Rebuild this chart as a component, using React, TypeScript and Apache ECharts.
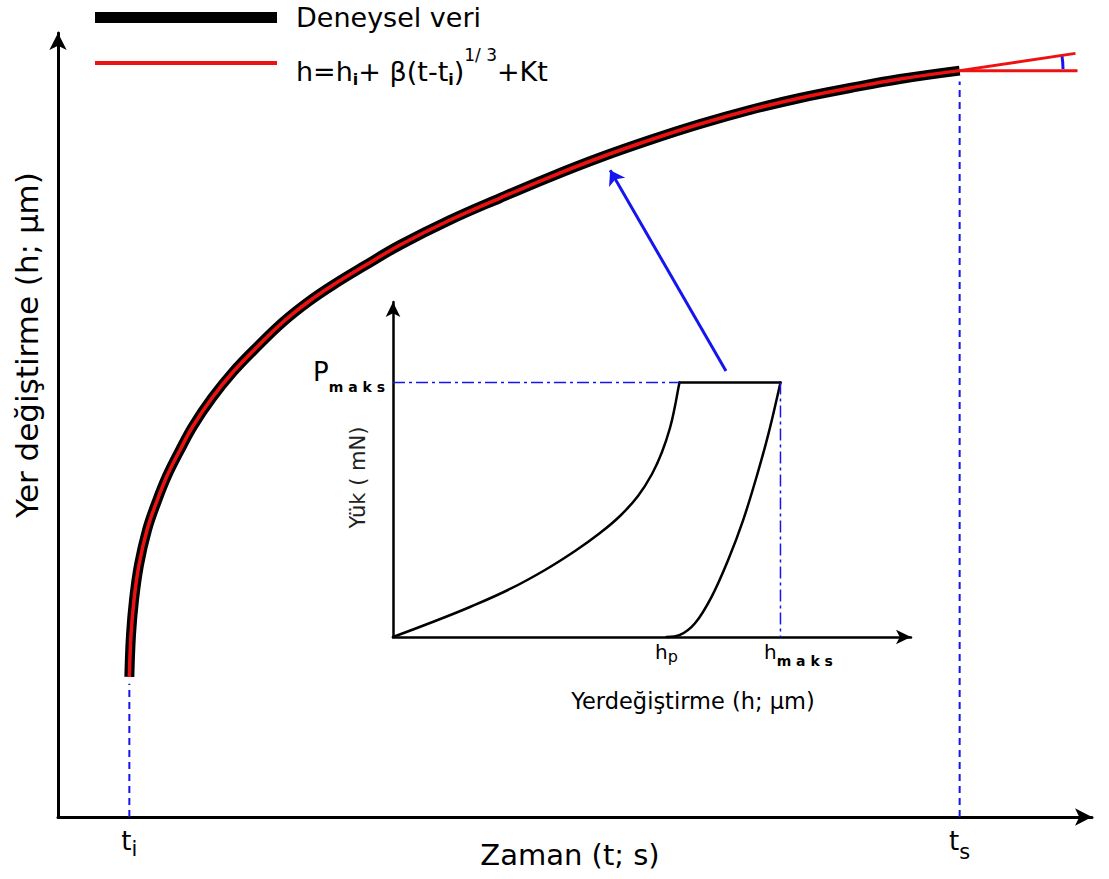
import React, { useEffect, useRef } from 'react';
import * as echarts from 'echarts';

const FONT = 'DejaVu Sans';
const BLUE = '#1515ee';
const RED = '#ee1111';

// Creep curve h(t); both main axes run over 0–100 arbitrary units
const creepT = [6.9, 7.06, 7.35, 7.83, 8.61, 9.57, 10.54, 11.8, 13.06, 14.89, 16.92, 19.34, 21.76, 24.18, 26.6, 29.69, 33.08, 37.91, 42.75, 47.58, 52.42, 57.25, 62.09, 66.92, 71.76, 76.6, 81.43, 87.2];
const creepH = [17.86, 23.21, 27.68, 32.14, 36.61, 40.31, 43.49, 46.81, 49.87, 53.44, 56.76, 60.08, 63.14, 65.69, 67.86, 70.34, 72.96, 76.15, 78.95, 81.63, 84.12, 86.35, 88.39, 90.18, 91.71, 92.98, 94.13, 95.2];

// Start and end of the hold period
const tI = 6.9;
const tS = 87.2;
const hS = 95.2;

// Tangent at t_s and the horizontal reference through the same point
const tangentT = [87.2, 98.4];
const tangentH = [95.2, 97.4];
const levelT = [87.2, 98.6];
const levelH = [95.2, 95.2];
const arcRadiusT = 97.2;

// Top of the dashed guides at t_i and t_s
const guideTopI = 17.0;
const guideTopS = 93.8;

// Pointer from the hold segment of the inset to the curve (main axis units)
const pointerT = [64.6, 53.4];
const pointerH = [56.9, 82.5];

// Inset: load P against displacement h (0–100 units)
const loadH = [0, 7.14, 14.86, 22.59, 29.34, 35.14, 39.96, 43.82, 47.3, 50.0, 51.93, 53.47, 54.44, 55.02, 55.31];
const loadP = [0, 4.18, 8.96, 14.33, 20.0, 25.67, 31.04, 36.12, 42.09, 48.66, 55.22, 62.39, 68.96, 73.73, 76];
const holdH = [55.31, 74.8];
const holdP = [76, 76];
const unloadH = [74.8, 72.5, 70.2, 67.6, 64.7, 61.5, 58.3, 55.4, 52.8];
const unloadP = [76, 60.8, 47.9, 34.9, 23.0, 12.0, 4.1, 0.6, 0];
const pMaks = 76;
const hP = 52.8;
const hMaks = 74.8;

const EXP_NAME = 'Deneysel veri';
const FIT_NAME = 'h=hi+ β(t-ti)^(1/3)+Kt';

const zip = (a: number[], b: number[]) => a.map((v, i) => [v, b[i]]);
const near = (a: number, b: number) => Math.abs(a - b) < 1e-6;

const lineBase = {
  type: 'line',
  symbol: 'none',
  showSymbol: false,
  silent: true,
  emphasis: { disabled: true },
  clip: false,
};

function axisLine(arrow: number[], width: number) {
  return {
    show: true,
    onZero: false,
    symbol: ['none', 'arrow'],
    symbolSize: arrow,
    lineStyle: { color: '#000', width },
  };
}

const tk = (size: number, extra: Record<string, unknown> = {}) => ({
  fontSize: size,
  fontFamily: FONT,
  color: '#000',
  verticalAlign: 'top',
  ...extra,
});

function buildOption() {
  return {
    animation: false,
    backgroundColor: '#fff',
    grid: [
      { left: 58, top: 33, right: 17, bottom: 62, containLabel: false, outerBoundsMode: 'none' },
      { left: 393, top: 302, right: 198, bottom: 242, containLabel: false, outerBoundsMode: 'none' },
    ],
    legend: [
      {
        data: [EXP_NAME],
        left: 95,
        top: 4,
        padding: 0,
        icon: 'rect',
        itemWidth: 182,
        itemHeight: 11,
        selectedMode: false,
        itemStyle: { borderWidth: 0 },
        textStyle: { fontSize: 27, fontFamily: FONT, color: '#000', padding: [0, 0, 0, 14] },
      },
      {
        data: [FIT_NAME],
        left: 95,
        top: 46.5,
        padding: 0,
        icon: 'rect',
        itemWidth: 182,
        itemHeight: 4,
        selectedMode: false,
        itemStyle: { borderWidth: 0 },
        formatter: () => '{n0|h=h}{sb|i}{n|+ β(t-t}{sb|i}{n|)}{sp|1/ 3}{n|+Kt}',
        textStyle: {
          fontSize: 27,
          fontFamily: FONT,
          color: '#000',
          rich: {
            n0: tk(27, { padding: [19.6, 0, 0, 14] }),
            n: tk(27, { padding: [19.6, 0, 0, 0] }),
            sb: tk(16, { fontWeight: 'bold', padding: [32.9, 0, 0, 0] }),
            sp: tk(17, { padding: [8, 0, 0, 0] }),
          },
        },
      },
    ],
    xAxis: [
      {
        gridIndex: 0,
        type: 'value',
        min: 0,
        max: 100,
        axisLine: axisLine([13, 17], 3),
        axisTick: { show: false },
        splitLine: { show: false },
        axisLabel: {
          show: true,
          customValues: [tI, tS],
          margin: 11,
          formatter: (v: number) => (near(v, tI) ? '{t|t}{si|i}' : near(v, tS) ? '{t|t}{ss|s}' : ''),
          rich: {
            t: tk(26),
            si: tk(21, { padding: [10, 0, 0, 0] }),
            ss: tk(21, { padding: [13, 0, 0, 0] }),
          },
        },
        name: 'Zaman (t; s)',
        nameLocation: 'middle',
        nameGap: 23,
        nameMoveOverlap: false,
        nameTextStyle: { fontSize: 29, fontFamily: FONT, color: '#000', padding: [0, 10, 0, 0] },
      },
      {
        gridIndex: 1,
        type: 'value',
        min: 0,
        max: 100,
        axisLine: axisLine([11, 15], 2.5),
        axisTick: { show: false },
        splitLine: { show: false },
        axisLabel: {
          show: true,
          customValues: [hP, hMaks],
          margin: 5,
          formatter: (v: number) => (near(v, hP) ? '{h|h}{p|p}' : near(v, hMaks) ? '{hm|h}{m|m a k s}' : ''),
          rich: {
            h: tk(20),
            hm: tk(20, { padding: [0, 0, 0, 36] }),
            p: tk(16, { padding: [6.5, 0, 0, 0] }),
            m: tk(14, { fontWeight: 'bold', padding: [12, 0, 0, 0] }),
          },
        },
        name: 'Yerdeğiştirme (h; μm)',
        nameLocation: 'middle',
        nameGap: 52,
        nameMoveOverlap: false,
        nameTextStyle: { fontSize: 22.5, fontFamily: FONT, color: '#000', padding: [0, 0, 0, 82] },
      },
    ],
    yAxis: [
      {
        gridIndex: 0,
        type: 'value',
        min: 0,
        max: 100,
        axisLine: axisLine([13, 17], 3),
        axisTick: { show: false },
        splitLine: { show: false },
        axisLabel: { show: false },
        name: 'Yer değiştirme (h; μm)',
        nameLocation: 'middle',
        nameGap: 16,
        nameMoveOverlap: false,
        nameTextStyle: { fontSize: 31, fontFamily: FONT, color: '#000', padding: [0, 0, 0, 160] },
      },
      {
        gridIndex: 1,
        type: 'value',
        min: 0,
        max: 100,
        axisLine: axisLine([11, 15], 2.5),
        axisTick: { show: false },
        splitLine: { show: false },
        axisLabel: {
          show: true,
          customValues: [pMaks],
          margin: 8,
          formatter: (v: number) => (near(v, pMaks) ? '{p|P}{m|m a k s}' : ''),
          rich: {
            p: tk(26, { padding: [0, 0, 21, 0] }),
            m: tk(14, { fontWeight: 'bold', padding: [21, 0, 0, 0] }),
          },
        },
        name: 'Yük ( mN)',
        nameLocation: 'middle',
        nameGap: 25,
        nameMoveOverlap: false,
        nameTextStyle: { fontSize: 21, fontFamily: FONT, color: '#222', padding: [0, 16, 0, 0] },
      },
    ],
    series: [
      // measured creep curve (thick black) with the fitted law on top (red)
      {
        ...lineBase,
        name: EXP_NAME,
        xAxisIndex: 0,
        yAxisIndex: 0,
        data: zip(creepT, creepH),
        smooth: 0.4,
        color: '#000',
        lineStyle: { color: '#000', width: 10, cap: 'butt' },
      },
      {
        ...lineBase,
        name: FIT_NAME,
        xAxisIndex: 0,
        yAxisIndex: 0,
        data: zip(creepT, creepH),
        smooth: 0.4,
        color: RED,
        lineStyle: { color: RED, width: 3.5 },
      },
      {
        ...lineBase,
        name: 'tangent',
        xAxisIndex: 0,
        yAxisIndex: 0,
        data: zip(tangentT, tangentH),
        lineStyle: { color: RED, width: 3 },
      },
      {
        ...lineBase,
        name: 'level',
        xAxisIndex: 0,
        yAxisIndex: 0,
        data: zip(levelT, levelH),
        lineStyle: { color: RED, width: 3 },
      },
      {
        ...lineBase,
        name: 'guide-ti',
        xAxisIndex: 0,
        yAxisIndex: 0,
        data: [[tI, 0], [tI, guideTopI]],
        lineStyle: { color: BLUE, width: 2, type: [7, 5] },
      },
      {
        ...lineBase,
        name: 'guide-ts',
        xAxisIndex: 0,
        yAxisIndex: 0,
        data: [[tS, 0], [tS, guideTopS]],
        lineStyle: { color: BLUE, width: 2, type: [7, 5] },
      },
      {
        type: 'lines',
        name: 'pointer',
        coordinateSystem: 'cartesian2d',
        xAxisIndex: 0,
        yAxisIndex: 0,
        silent: true,
        symbol: ['none', 'arrow'],
        symbolSize: 14,
        lineStyle: { color: BLUE, width: 3, opacity: 1, curveness: 0 },
        data: [{ coords: zip(pointerT, pointerH) }],
      },
      {
        type: 'custom',
        name: 'angle',
        xAxisIndex: 0,
        yAxisIndex: 0,
        silent: true,
        clip: false,
        data: [[tS, hS, arcRadiusT, tangentT[1], tangentH[1]]],
        encode: { x: [0, 2, 3], y: [1, 4] },
        renderItem: (_params: unknown, api: any) => {
          const c = api.coord([api.value(0), api.value(1)]);
          const edge = api.coord([api.value(2), api.value(1)]);
          const tip = api.coord([api.value(3), api.value(4)]);
          const ang = Math.atan2(tip[1] - c[1], tip[0] - c[0]);
          return {
            type: 'arc',
            shape: { cx: c[0], cy: c[1], r: edge[0] - c[0], startAngle: ang, endAngle: -0.015, clockwise: true },
            style: { stroke: BLUE, lineWidth: 3, fill: null },
          };
        },
      },
      // inset: load–displacement curve
      {
        ...lineBase,
        name: 'loading',
        xAxisIndex: 1,
        yAxisIndex: 1,
        data: zip(loadH, loadP),
        smooth: 0.4,
        lineStyle: { color: '#000', width: 2.5, cap: 'round' },
      },
      {
        ...lineBase,
        name: 'hold',
        xAxisIndex: 1,
        yAxisIndex: 1,
        data: zip(holdH, holdP),
        lineStyle: { color: '#000', width: 2.5, cap: 'round' },
      },
      {
        ...lineBase,
        name: 'unloading',
        xAxisIndex: 1,
        yAxisIndex: 1,
        data: zip(unloadH, unloadP),
        smooth: 0.35,
        lineStyle: { color: '#000', width: 2.5, cap: 'round' },
      },
      {
        ...lineBase,
        name: 'pmaks-guide',
        xAxisIndex: 1,
        yAxisIndex: 1,
        data: [[0, pMaks], [holdH[0], pMaks]],
        lineStyle: { color: BLUE, width: 1.5, type: [12, 4, 3, 4] },
      },
      {
        ...lineBase,
        name: 'hmaks-guide',
        xAxisIndex: 1,
        yAxisIndex: 1,
        data: [[hMaks, pMaks], [hMaks, 0]],
        lineStyle: { color: BLUE, width: 1.5, type: [12, 4, 3, 4] },
      },
    ],
  };
}

export default function App() {
  const ref = useRef<HTMLDivElement>(null);
  useEffect(() => {
    if (!ref.current) return;
    const chart = echarts.init(ref.current, null, { renderer: 'svg' });
    chart.setOption(buildOption() as any);
    return () => chart.dispose();
  }, []);
  return (
    <div
      ref={ref}
      style={{ position: 'fixed', left: 0, top: 0, width: 1109, height: 879, background: '#fff' }}
    />
  );
}
